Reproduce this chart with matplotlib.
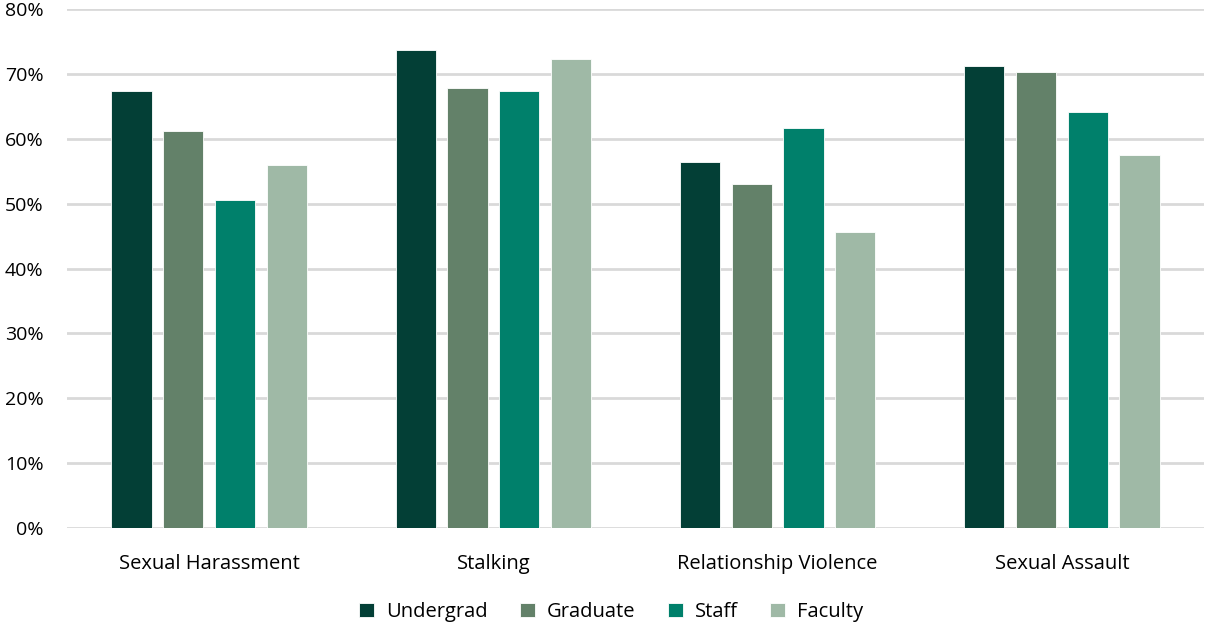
import matplotlib
matplotlib.use("Agg")
import matplotlib.pyplot as plt
import numpy as np
from matplotlib.ticker import PercentFormatter

categories = ["Sexual Harassment", "Stalking", "Relationship Violence", "Sexual Assault"]
series_names = ["Undergrad", "Graduate", "Staff", "Faculty"]
undergrad = [67.3, 73.7, 56.4, 71.2]
graduate = [61.2, 67.8, 53.0, 70.3]
staff = [50.5, 67.3, 61.6, 64.1]
faculty = [55.9, 72.3, 45.6, 57.5]
colors = ["#033f36", "#638169", "#00806b", "#9fb9a6"]

plt.rcParams['font.family'] = ['Open Sans', 'DejaVu Sans']

fig = plt.figure(figsize=(12.05, 6.24), dpi=100)
ax = fig.add_axes([67/1205, 96/624, (1204-67)/1205, (528-9)/624])

x = np.arange(len(categories))
step = 0.182
width = 0.141
for i, (name, vals) in enumerate(zip(series_names, [undergrad, graduate, staff, faculty])):
    ax.bar(x + (i - 1.5) * step, vals, width=width, color=colors[i], label=name,
           edgecolor="white", linewidth=0.6, zorder=3)

ax.set_xlim(-0.5, 3.5)
ax.set_ylim(0, 80)
ax.set_yticks(np.arange(0, 81, 10))
ax.yaxis.set_major_formatter(PercentFormatter(decimals=0))
ax.grid(axis='y', color='#d9d9d9', linewidth=2, zorder=0)
for s in ax.spines.values():
    s.set_visible(False)
ax.tick_params(axis='both', length=0, colors='#000000')
ax.tick_params(axis='y', pad=17, labelsize=14)
ax.tick_params(axis='x', pad=19, labelsize=14.5)
ax.set_xticks(x)
ax.set_xticklabels(categories)

fig.legend(loc='center', bbox_to_anchor=(611/1205, 1 - 612/624), ncol=4, frameon=False,
           fontsize=14.5, handlelength=0.75, handleheight=0.75, columnspacing=1.6, handletextpad=0.6)

fig.savefig("out.png", dpi=100)
